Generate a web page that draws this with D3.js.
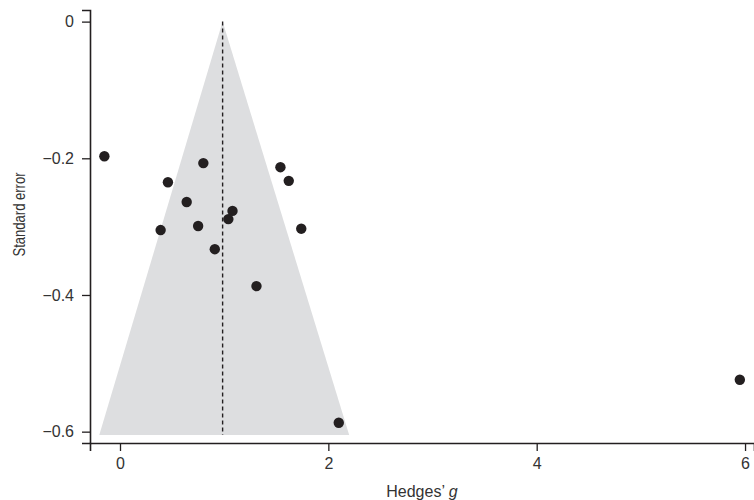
<!DOCTYPE html>
<html>
<head>
<meta charset="utf-8">
<script src="https://cdn.jsdelivr.net/npm/d3@7"></script>
<style>
  html, body { margin: 0; padding: 0; background: #fff; }
  svg { display: block; }
  text { font-family: "Liberation Sans", Arial, Helvetica, sans-serif; }
</style>
</head>
<body>
<svg id="chart" width="754" height="500"></svg>
<script>
// Study effect sizes (Hedges' g) and standard errors (plotted as negative)
const hedgesG = [-0.15, 0.80, 0.46, 0.64, 1.08, 1.04, 0.75, 0.39, 0.91, 1.54, 1.62, 1.74, 1.31, 2.10, 5.95];
const stdError = [-0.197, -0.207, -0.235, -0.264, -0.277, -0.289, -0.299, -0.305, -0.333, -0.213, -0.233, -0.303, -0.387, -0.587, -0.524];
const pooledG = 0.985;
const funnelX = [0.985, -0.199, 2.20];
const funnelY = [0, -0.605, -0.605];
const xTicks = [0, 2, 4, 6];
const yTicks = [0, -0.2, -0.4, -0.6];
const xLabel = "Hedges\u2019 ";
const xLabelItalic = "g";
const yLabel = "Standard error";

const svg = d3.select("#chart");
const ink = "#231f20";

const x = d3.scaleLinear().domain([-0.288, 6.086]).range([90, 754]);
const y = d3.scaleLinear().domain([0.017, -0.6166]).range([10, 443]);

// Funnel (pseudo 95% CI region)
const funnel = funnelX.map((v, i) => [v, funnelY[i]]);
svg.append("path")
  .attr("d", d3.line().x(d => x(d[0])).y(d => y(d[1]))(funnel) + "Z")
  .attr("fill", "#dddee0");

// Pooled estimate dashed line
svg.append("line")
  .attr("x1", x(pooledG)).attr("x2", x(pooledG))
  .attr("y1", y(0)).attr("y2", y(funnelY[1]))
  .attr("stroke", ink).attr("stroke-width", 1.4)
  .attr("stroke-dasharray", "4,3");

// Axes
const fmtY = d => d === 0 ? "0" : d3.format(".1f")(d).replace("-", "\u2212");
const fmtX = d => String(d);
const yAxis = svg.append("g").attr("transform", `translate(${x.range()[0]},0)`)
  .call(d3.axisLeft(y).tickValues(yTicks).tickFormat(fmtY).tickSizeOuter(0).tickSize(8).tickPadding(8));
const xAxis = svg.append("g").attr("transform", `translate(0,${y.range()[1]})`)
  .call(d3.axisBottom(x).tickValues(xTicks).tickFormat(fmtX).tickSizeOuter(0).tickSize(8).tickPadding(7));

[yAxis, xAxis].forEach(g => {
  g.select(".domain").attr("stroke", ink).attr("stroke-width", 1.6);
  g.selectAll(".tick line").attr("stroke", ink).attr("stroke-width", 1.3);
  g.selectAll(".tick text").attr("fill", "#333").style("font-size", "16px")
   .style("font-family", "'Liberation Sans', Arial, sans-serif");
});

// Points
svg.append("g").selectAll("circle")
  .data(hedgesG.map((g, i) => ({ g, se: stdError[i] })))
  .join("circle")
  .attr("cx", d => x(d.g))
  .attr("cy", d => y(d.se))
  .attr("r", 5.2)
  .attr("fill", ink);

// Axis titles
const xt = svg.append("text")
  .attr("x", (x.range()[0] + x.range()[1]) / 2)
  .attr("y", 497)
  .attr("text-anchor", "middle")
  .attr("fill", "#333")
  .style("font-size", "16px");
xt.append("tspan").text(xLabel);
xt.append("tspan").style("font-style", "italic").text(xLabelItalic);

svg.append("text")
  .attr("transform", `translate(25,${(y.range()[0] + y.range()[1]) / 2 - 12}) rotate(-90)`)
  .attr("text-anchor", "middle")
  .attr("fill", "#333")
  .attr("textLength", 84)
  .attr("lengthAdjust", "spacingAndGlyphs")
  .style("font-size", "16px")
  .text(yLabel);
</script>
</body>
</html>
